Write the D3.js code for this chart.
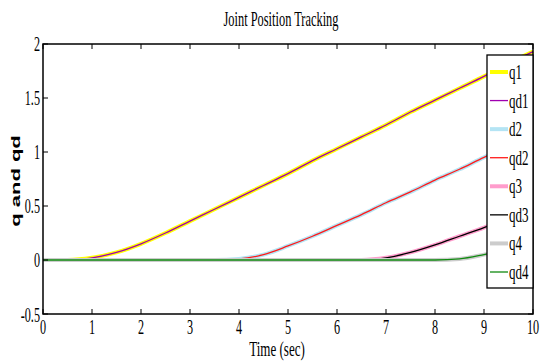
<!DOCTYPE html>
<html>
<head>
<meta charset="utf-8">
<script src="https://cdn.jsdelivr.net/npm/d3@7"></script>
<style>
  body { margin: 0; background: #fff; }
  svg { display: block; }
  text { font-family: "Liberation Serif", "Times New Roman", serif; fill: #000; }
</style>
</head>
<body>
<div id="chart"></div>
<script>
// sample times (sec)
const time = [0, 0.5, 1, 1.5, 2, 2.5, 3, 3.5, 4, 4.5, 5, 5.5, 6, 6.5, 7, 7.5, 8, 8.5, 9, 9.5, 10];

// actual joint positions
const q1 = [0, 0, 0.02, 0.07, 0.15, 0.25, 0.36, 0.47, 0.58, 0.69, 0.80, 0.92, 1.03, 1.14, 1.25, 1.37, 1.48, 1.59, 1.70, 1.82, 1.93];
const q2 = [0, 0, 0, 0, 0, 0, 0, 0, 0.01, 0.05, 0.13, 0.22, 0.32, 0.42, 0.53, 0.63, 0.74, 0.84, 0.95, 1.05, 1.15];
const q3 = [0, 0, 0, 0, 0, 0, 0, 0, 0, 0, 0, 0, 0, 0, 0.02, 0.07, 0.14, 0.22, 0.30, 0.39, 0.48];
const q4 = [0, 0, 0, 0, 0, 0, 0, 0, 0, 0, 0, 0, 0, 0, 0, 0, 0, 0.01, 0.05, 0.10, 0.17];

// desired joint positions
const qd1 = [0, 0, 0.02, 0.07, 0.15, 0.25, 0.36, 0.47, 0.58, 0.69, 0.80, 0.92, 1.03, 1.14, 1.25, 1.37, 1.48, 1.59, 1.70, 1.82, 1.93];
const qd2 = [0, 0, 0, 0, 0, 0, 0, 0, 0.01, 0.05, 0.13, 0.22, 0.32, 0.42, 0.53, 0.63, 0.74, 0.84, 0.95, 1.05, 1.15];
const qd3 = [0, 0, 0, 0, 0, 0, 0, 0, 0, 0, 0, 0, 0, 0, 0.02, 0.07, 0.14, 0.22, 0.30, 0.39, 0.48];
const qd4 = [0, 0, 0, 0, 0, 0, 0, 0, 0, 0, 0, 0, 0, 0, 0, 0, 0, 0.01, 0.05, 0.10, 0.17];

const legendLabels = ["q1", "qd1", "d2", "qd2", "q3", "qd3", "q4", "qd4"];
const xTicks = [0, 1, 2, 3, 4, 5, 6, 7, 8, 9, 10];
const yTicks = [-0.5, 0, 0.5, 1, 1.5, 2];

const W = 541, H = 361;
const plot = { left: 43, right: 533, top: 44, bottom: 314 };
const squeeze = 0.58; // the original text is narrow

const series = [
    { name: legendLabels[0], values: q1, color: "#ffff00", width: 4 },
    { name: legendLabels[1], values: qd1, color: "#a000b0", width: 1.3 },
    { name: legendLabels[2], values: q2, color: "#b4e4f4", width: 4 },
    { name: legendLabels[3], values: qd2, color: "#ff1a1a", width: 1.3 },
    { name: legendLabels[4], values: q3, color: "#ff9ccc", width: 4 },
    { name: legendLabels[5], values: qd3, color: "#000000", width: 1.3 },
    { name: legendLabels[6], values: q4, color: "#cccccc", width: 4 },
    { name: legendLabels[7], values: qd4, color: "#108a10", width: 1.3 }
];

const svg = d3.select("#chart").append("svg")
    .attr("width", W)
    .attr("height", H);

const x = d3.scaleLinear().domain([0, 10]).range([plot.left, plot.right]);
const y = d3.scaleLinear().domain([-0.5, 2]).range([plot.bottom, plot.top]);

// squeezed text helper
function label(g, px, py, str, size, anchor, sq) {
    return g.append("text")
        .attr("transform", `translate(${px},${py}) scale(${sq || squeeze},1)`)
        .attr("text-anchor", anchor || "middle")
        .style("font-size", size + "px")
        .text(str);
}

// lines
const line = d3.line()
    .x((d, i) => x(time[i]))
    .y(d => y(d))
    .curve(d3.curveMonotoneX);

const plotArea = svg.append("g");
series.forEach(s => {
    plotArea.append("path")
        .datum(s.values)
        .attr("d", line)
        .attr("fill", "none")
        .attr("stroke", s.color)
        .attr("stroke-width", s.width)
        .attr("stroke-linejoin", "round");
});

// axes box with inner ticks
const frame = svg.append("g");
frame.append("rect")
    .attr("x", plot.left).attr("y", plot.top)
    .attr("width", plot.right - plot.left)
    .attr("height", plot.bottom - plot.top)
    .attr("fill", "none")
    .attr("stroke", "#000")
    .attr("stroke-width", 1.5);

const tickLen = 5;
xTicks.forEach(t => {
    frame.append("line")
        .attr("x1", x(t)).attr("x2", x(t))
        .attr("y1", plot.bottom).attr("y2", plot.bottom - tickLen)
        .attr("stroke", "#000");
    frame.append("line")
        .attr("x1", x(t)).attr("x2", x(t))
        .attr("y1", plot.top).attr("y2", plot.top + tickLen)
        .attr("stroke", "#000");
    label(frame, x(t), plot.bottom + 20, t, 21);
});
yTicks.forEach(t => {
    frame.append("line")
        .attr("x1", plot.left).attr("x2", plot.left + tickLen)
        .attr("y1", y(t)).attr("y2", y(t))
        .attr("stroke", "#000");
    frame.append("line")
        .attr("x1", plot.right).attr("x2", plot.right - tickLen)
        .attr("y1", y(t)).attr("y2", y(t))
        .attr("stroke", "#000");
    label(frame, plot.left - 3, y(t) + (t === -0.5 ? 8 : 7), t, 21, "end");
});

// titles
label(svg, 281, 26, "Joint Position Tracking", 20, "middle", 0.62);
label(svg, 277, 356, "Time (sec)", 21, "middle", 0.62);
svg.append("text")
    .attr("transform", `translate(20,181) rotate(-90) scale(1,0.6)`)
    .attr("text-anchor", "middle")
    .style("font-family", "'Liberation Sans', Arial, sans-serif")
    .style("font-weight", "bold")
    .style("font-size", "22px")
    .text("q and qd");

// legend
const lg = svg.append("g");
const lgBox = { x: 487, y: 55, w: plot.right - 487, h: 233 };
lg.append("rect")
    .attr("x", lgBox.x).attr("y", lgBox.y)
    .attr("width", lgBox.w).attr("height", lgBox.h)
    .attr("fill", "#fff")
    .attr("stroke", "#000")
    .attr("stroke-width", 1.3);

const rowY = d3.scaleLinear().domain([0, 7]).range([72, 272]);
series.forEach((s, i) => {
    lg.append("line")
        .attr("x1", 490).attr("x2", 508)
        .attr("y1", rowY(i)).attr("y2", rowY(i))
        .attr("stroke", s.color)
        .attr("stroke-width", s.width);
    label(lg, 509, rowY(i) + 7, s.name, 21, "start", 0.62);
});
</script>
</body>
</html>
